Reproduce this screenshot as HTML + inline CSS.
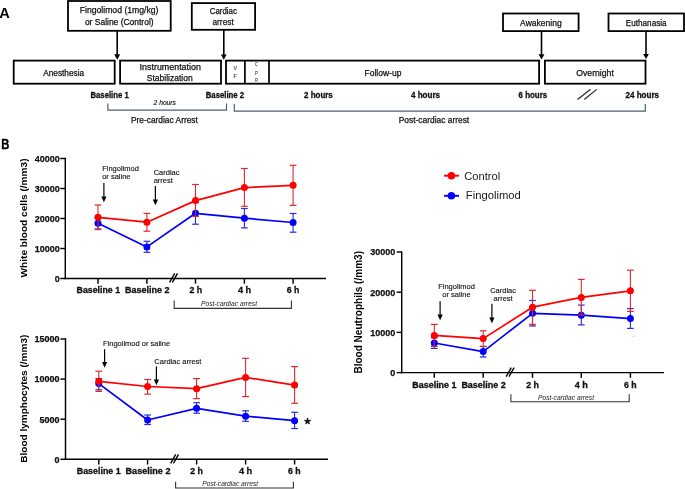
<!DOCTYPE html>
<html><head><meta charset="utf-8"><title>Figure</title>
<style>
html,body{margin:0;padding:0;background:#fff;}
body{width:685px;height:489px;overflow:hidden;}
svg{display:block;font-family:"Liberation Sans",sans-serif;will-change:transform;}
</style></head><body>
<svg width="685" height="489" viewBox="0 0 685 489">
<rect width="685" height="489" fill="#fff"/>
<text x="-0.8" y="18.2" font-size="14.6" font-weight="bold" font-style="normal" text-anchor="start" fill="#000" >A</text>
<rect x="68.0" y="1.0" width="102.70" height="29.80" fill="none" stroke="#000" stroke-width="1.8"/>
<text x="119.1" y="12.95" font-size="8.6" font-weight="normal" font-style="normal" text-anchor="middle" fill="#111111" stroke="#111111" stroke-width="0.25" textLength="78.8" lengthAdjust="spacingAndGlyphs" >Fingolimod (1mg/kg)</text>
<text x="119.25" y="24.5" font-size="8.6" font-weight="normal" font-style="normal" text-anchor="middle" fill="#111111" stroke="#111111" stroke-width="0.25" textLength="68.7" lengthAdjust="spacingAndGlyphs" >or Saline (Control)</text>
<rect x="191.8" y="3.1" width="63.30" height="26.70" fill="none" stroke="#000" stroke-width="1.8"/>
<text x="223.35" y="13.6" font-size="8.6" font-weight="normal" font-style="normal" text-anchor="middle" fill="#111111" stroke="#111111" stroke-width="0.25" textLength="27.3" lengthAdjust="spacingAndGlyphs" >Cardiac</text>
<text x="223.1" y="25.0" font-size="8.6" font-weight="normal" font-style="normal" text-anchor="middle" fill="#111111" stroke="#111111" stroke-width="0.25" textLength="21.2" lengthAdjust="spacingAndGlyphs" >arrest</text>
<rect x="503.0" y="13.5" width="75.60" height="17.60" fill="none" stroke="#000" stroke-width="1.8"/>
<text x="540.9" y="25.5" font-size="8.6" font-weight="normal" font-style="normal" text-anchor="middle" fill="#111111" stroke="#111111" stroke-width="0.25" textLength="41.6" lengthAdjust="spacingAndGlyphs" >Awakening</text>
<rect x="608.5" y="13.5" width="75.50" height="17.60" fill="none" stroke="#000" stroke-width="1.8"/>
<text x="646.2" y="25.5" font-size="8.6" font-weight="normal" font-style="normal" text-anchor="middle" fill="#111111" stroke="#111111" stroke-width="0.25" textLength="40.8" lengthAdjust="spacingAndGlyphs" >Euthanasia</text>
<line x1="117.2" y1="30.8" x2="117.2" y2="54.8" stroke="#000" stroke-width="1.6" />
<path d="M114.2,54.300000000000004 L120.2,54.300000000000004 L117.2,59.7 Z" fill="#000"/>
<line x1="223.8" y1="29.8" x2="223.8" y2="54.9" stroke="#000" stroke-width="1.6" />
<path d="M220.9,54.400000000000006 L226.70000000000002,54.400000000000006 L223.8,59.7 Z" fill="#000"/>
<line x1="541.5" y1="31.1" x2="541.5" y2="54.7" stroke="#000" stroke-width="1.6" />
<path d="M538.6,54.2 L544.4,54.2 L541.5,59.6 Z" fill="#000"/>
<line x1="646" y1="31.1" x2="646" y2="54.5" stroke="#000" stroke-width="1.6" />
<path d="M643.1,54.0 L648.9,54.0 L646.0,59.0 Z" fill="#000"/>
<rect x="13.7" y="60.6" width="101.00" height="23.10" fill="none" stroke="#000" stroke-width="1.8"/>
<text x="63.7" y="75.8" font-size="8.6" font-weight="normal" font-style="normal" text-anchor="middle" fill="#111111" stroke="#111111" stroke-width="0.25" textLength="41.0" lengthAdjust="spacingAndGlyphs" >Anesthesia</text>
<rect x="120.1" y="60.6" width="100.90" height="23.10" fill="none" stroke="#000" stroke-width="1.8"/>
<text x="170.25" y="69.7" font-size="8.6" font-weight="normal" font-style="normal" text-anchor="middle" fill="#111111" stroke="#111111" stroke-width="0.25" textLength="61.3" lengthAdjust="spacingAndGlyphs" >Instrumentation</text>
<text x="169.75" y="80.6" font-size="8.6" font-weight="normal" font-style="normal" text-anchor="middle" fill="#111111" stroke="#111111" stroke-width="0.25" textLength="45.9" lengthAdjust="spacingAndGlyphs" >Stabilization</text>
<rect x="226.0" y="60.6" width="313.10" height="23.10" fill="none" stroke="#000" stroke-width="1.8"/>
<line x1="244.9" y1="60.6" x2="244.9" y2="83.7" stroke="#000" stroke-width="1.7" />
<line x1="269" y1="60.6" x2="269" y2="83.7" stroke="#000" stroke-width="1.7" />
<text x="235.2" y="70.1" font-size="5.3" font-weight="normal" font-style="normal" text-anchor="middle" fill="#444" stroke="#444" stroke-width="0.15" >V</text>
<text x="235.2" y="78.3" font-size="5.3" font-weight="normal" font-style="normal" text-anchor="middle" fill="#444" stroke="#444" stroke-width="0.15" >F</text>
<text x="256.4" y="66.4" font-size="5.7" font-weight="normal" font-style="normal" text-anchor="middle" fill="#444" stroke="#444" stroke-width="0.15" textLength="2.7" lengthAdjust="spacingAndGlyphs" >C</text>
<text x="256.4" y="74.5" font-size="5.7" font-weight="normal" font-style="normal" text-anchor="middle" fill="#444" stroke="#444" stroke-width="0.15" textLength="2.7" lengthAdjust="spacingAndGlyphs" >P</text>
<text x="256.4" y="82.0" font-size="5.7" font-weight="normal" font-style="normal" text-anchor="middle" fill="#444" stroke="#444" stroke-width="0.15" textLength="2.8" lengthAdjust="spacingAndGlyphs" >R</text>
<text x="382.95" y="75.5" font-size="8.6" font-weight="normal" font-style="normal" text-anchor="middle" fill="#111111" stroke="#111111" stroke-width="0.25" textLength="36.9" lengthAdjust="spacingAndGlyphs" >Follow-up</text>
<rect x="544.9" y="60.6" width="100.60" height="23.10" fill="none" stroke="#000" stroke-width="1.8"/>
<text x="595.05" y="75.5" font-size="8.6" font-weight="normal" font-style="normal" text-anchor="middle" fill="#111111" stroke="#111111" stroke-width="0.25" textLength="37.5" lengthAdjust="spacingAndGlyphs" >Overnight</text>
<text x="109.6" y="97.5" font-size="8.3" font-weight="bold" font-style="normal" text-anchor="middle" fill="#111" stroke="#111" stroke-width="0.3" textLength="38.2" lengthAdjust="spacingAndGlyphs" >Baseline 1</text>
<text x="224.95" y="97.5" font-size="8.3" font-weight="bold" font-style="normal" text-anchor="middle" fill="#111" stroke="#111" stroke-width="0.3" textLength="38.5" lengthAdjust="spacingAndGlyphs" >Baseline 2</text>
<text x="318.4" y="97.5" font-size="8.3" font-weight="bold" font-style="normal" text-anchor="middle" fill="#111" stroke="#111" stroke-width="0.3" textLength="28.8" lengthAdjust="spacingAndGlyphs" >2 hours</text>
<text x="425.5" y="97.5" font-size="8.3" font-weight="bold" font-style="normal" text-anchor="middle" fill="#111" stroke="#111" stroke-width="0.3" textLength="29.0" lengthAdjust="spacingAndGlyphs" >4 hours</text>
<text x="532.9" y="97.5" font-size="8.3" font-weight="bold" font-style="normal" text-anchor="middle" fill="#111" stroke="#111" stroke-width="0.3" textLength="28.6" lengthAdjust="spacingAndGlyphs" >6 hours</text>
<text x="642.3" y="97.5" font-size="8.3" font-weight="bold" font-style="normal" text-anchor="middle" fill="#111" stroke="#111" stroke-width="0.3" textLength="33.6" lengthAdjust="spacingAndGlyphs" >24 hours</text>
<line x1="577.5" y1="99.5" x2="590.6" y2="89.3" stroke="#222" stroke-width="1.1" />
<line x1="584.3" y1="99.5" x2="596.7" y2="89.4" stroke="#222" stroke-width="1.1" />
<text x="164.75" y="105.0" font-size="6.9" font-weight="normal" font-style="italic" text-anchor="middle" fill="#111" stroke="#111" stroke-width="0.15" textLength="22.3" lengthAdjust="spacingAndGlyphs" >2 hours</text>
<path d="M107.9,103.4 V110.2 H226.5 V103.4" fill="none" stroke="#535e72" stroke-width="1.2"/>
<path d="M234.3,103.9 V111.2 H645.3 V103.9" fill="none" stroke="#535e72" stroke-width="1.2"/>
<text x="164.4" y="122.7" font-size="8.6" font-weight="normal" font-style="normal" text-anchor="middle" fill="#111111" stroke="#111111" stroke-width="0.25" textLength="67.0" lengthAdjust="spacingAndGlyphs" >Pre-cardiac Arrest</text>
<text x="433.95" y="122.8" font-size="8.6" font-weight="normal" font-style="normal" text-anchor="middle" fill="#111111" stroke="#111111" stroke-width="0.25" textLength="70.5" lengthAdjust="spacingAndGlyphs" >Post-cardiac arrest</text>
<text x="1.2" y="148.8" font-size="14.0" font-weight="bold" font-style="normal" text-anchor="start" fill="#000" stroke="#000" stroke-width="0.4" textLength="8.1" lengthAdjust="spacingAndGlyphs" >B</text>
<line x1="65.3" y1="157.78" x2="65.3" y2="279.23" stroke="#000" stroke-width="1.45" />
<line x1="64.58" y1="278.5" x2="326" y2="278.5" stroke="#000" stroke-width="1.45" />
<line x1="60.3" y1="158.5" x2="65.3" y2="158.5" stroke="#000" stroke-width="1.45" />
<text x="59.7" y="161.8" font-size="9.0" font-weight="bold" font-style="normal" text-anchor="end" fill="#111" stroke="#111" stroke-width="0.25" >40000</text>
<line x1="60.3" y1="188.5" x2="65.3" y2="188.5" stroke="#000" stroke-width="1.45" />
<text x="59.7" y="191.8" font-size="9.0" font-weight="bold" font-style="normal" text-anchor="end" fill="#111" stroke="#111" stroke-width="0.25" >30000</text>
<line x1="60.3" y1="218.5" x2="65.3" y2="218.5" stroke="#000" stroke-width="1.45" />
<text x="59.7" y="221.8" font-size="9.0" font-weight="bold" font-style="normal" text-anchor="end" fill="#111" stroke="#111" stroke-width="0.25" >20000</text>
<line x1="60.3" y1="248.5" x2="65.3" y2="248.5" stroke="#000" stroke-width="1.45" />
<text x="59.7" y="251.8" font-size="9.0" font-weight="bold" font-style="normal" text-anchor="end" fill="#111" stroke="#111" stroke-width="0.25" >10000</text>
<line x1="60.3" y1="278.5" x2="65.3" y2="278.5" stroke="#000" stroke-width="1.45" />
<text x="59.7" y="281.8" font-size="9.0" font-weight="bold" font-style="normal" text-anchor="end" fill="#111" stroke="#111" stroke-width="0.25" >0</text>
<line x1="98" y1="278.5" x2="98" y2="283.7" stroke="#000" stroke-width="1.45" />
<line x1="146.9" y1="278.5" x2="146.9" y2="283.7" stroke="#000" stroke-width="1.45" />
<line x1="195.5" y1="278.5" x2="195.5" y2="283.7" stroke="#000" stroke-width="1.45" />
<line x1="244.4" y1="278.5" x2="244.4" y2="283.7" stroke="#000" stroke-width="1.45" />
<line x1="293.1" y1="278.5" x2="293.1" y2="283.7" stroke="#000" stroke-width="1.45" />
<text x="98.35" y="292.6" font-size="8.6" font-weight="bold" font-style="normal" text-anchor="middle" fill="#111" stroke="#111" stroke-width="0.3" textLength="43.5" lengthAdjust="spacingAndGlyphs" >Baseline 1</text>
<text x="147.35" y="292.6" font-size="8.6" font-weight="bold" font-style="normal" text-anchor="middle" fill="#111" stroke="#111" stroke-width="0.3" textLength="44.5" lengthAdjust="spacingAndGlyphs" >Baseline 2</text>
<text x="195.75" y="292.6" font-size="8.6" font-weight="bold" font-style="normal" text-anchor="middle" fill="#111" stroke="#111" stroke-width="0.3" textLength="12.7" lengthAdjust="spacingAndGlyphs" >2 h</text>
<text x="244.6" y="292.6" font-size="8.6" font-weight="bold" font-style="normal" text-anchor="middle" fill="#111" stroke="#111" stroke-width="0.3" textLength="13.2" lengthAdjust="spacingAndGlyphs" >4 h</text>
<text x="293.05" y="292.6" font-size="8.6" font-weight="bold" font-style="normal" text-anchor="middle" fill="#111" stroke="#111" stroke-width="0.3" textLength="12.6" lengthAdjust="spacingAndGlyphs" >6 h</text>
<line x1="169.6" y1="282.4" x2="174.7" y2="273.4" stroke="#000" stroke-width="1.35" />
<line x1="172.4" y1="282.4" x2="177.5" y2="273.4" stroke="#000" stroke-width="1.35" />
<path d="M174.2,300.6 V308.4 H291.4 V300.6" fill="none" stroke="#333" stroke-width="1.1"/>
<text x="229.0" y="305.5" font-size="7.2" font-weight="normal" font-style="italic" text-anchor="middle" fill="#222" textLength="56.0" lengthAdjust="spacingAndGlyphs" >Post-cardiac arrest</text>
<text transform="translate(26.7,277.5) rotate(-90)" x="0" y="0" font-size="9.2" font-weight="bold" fill="#000" textLength="119.0" lengthAdjust="spacingAndGlyphs">White blood cells (/mm3)</text>
<line x1="98" y1="217.6" x2="98" y2="229" stroke="#2a2ade" stroke-width="1.1" />
<line x1="94.65" y1="217.6" x2="101.35" y2="217.6" stroke="#2a2ade" stroke-width="1.2" />
<line x1="94.65" y1="229" x2="101.35" y2="229" stroke="#2a2ade" stroke-width="1.2" />
<line x1="146.9" y1="241.3" x2="146.9" y2="252.3" stroke="#2a2ade" stroke-width="1.1" />
<line x1="143.55" y1="241.3" x2="150.25" y2="241.3" stroke="#2a2ade" stroke-width="1.2" />
<line x1="143.55" y1="252.3" x2="150.25" y2="252.3" stroke="#2a2ade" stroke-width="1.2" />
<line x1="195.5" y1="202.4" x2="195.5" y2="224.2" stroke="#2a2ade" stroke-width="1.1" />
<line x1="192.15" y1="202.4" x2="198.85" y2="202.4" stroke="#2a2ade" stroke-width="1.2" />
<line x1="192.15" y1="224.2" x2="198.85" y2="224.2" stroke="#2a2ade" stroke-width="1.2" />
<line x1="244.4" y1="208.5" x2="244.4" y2="227.9" stroke="#2a2ade" stroke-width="1.1" />
<line x1="241.05" y1="208.5" x2="247.75" y2="208.5" stroke="#2a2ade" stroke-width="1.2" />
<line x1="241.05" y1="227.9" x2="247.75" y2="227.9" stroke="#2a2ade" stroke-width="1.2" />
<line x1="293.1" y1="213.5" x2="293.1" y2="232.2" stroke="#2a2ade" stroke-width="1.1" />
<line x1="289.75" y1="213.5" x2="296.45" y2="213.5" stroke="#2a2ade" stroke-width="1.2" />
<line x1="289.75" y1="232.2" x2="296.45" y2="232.2" stroke="#2a2ade" stroke-width="1.2" />
<polyline points="98.0,223.3 146.9,246.9 195.5,213.3 244.4,218.2 293.1,222.5" fill="none" stroke="#0000ff" stroke-width="1.7" stroke-linejoin="round"/>
<circle cx="98.0" cy="223.3" r="3.5" fill="#0000ff"/>
<circle cx="146.9" cy="246.9" r="3.5" fill="#0000ff"/>
<circle cx="195.5" cy="213.3" r="3.5" fill="#0000ff"/>
<circle cx="244.4" cy="218.2" r="3.5" fill="#0000ff"/>
<circle cx="293.1" cy="222.5" r="3.5" fill="#0000ff"/>
<line x1="98" y1="205" x2="98" y2="229.6" stroke="#e0282c" stroke-width="1.1" />
<line x1="94.65" y1="205" x2="101.35" y2="205" stroke="#e0282c" stroke-width="1.2" />
<line x1="94.65" y1="229.6" x2="101.35" y2="229.6" stroke="#e0282c" stroke-width="1.2" />
<line x1="146.9" y1="213.4" x2="146.9" y2="231.2" stroke="#e0282c" stroke-width="1.1" />
<line x1="143.55" y1="213.4" x2="150.25" y2="213.4" stroke="#e0282c" stroke-width="1.2" />
<line x1="143.55" y1="231.2" x2="150.25" y2="231.2" stroke="#e0282c" stroke-width="1.2" />
<line x1="195.5" y1="184.5" x2="195.5" y2="216.4" stroke="#e0282c" stroke-width="1.1" />
<line x1="192.15" y1="184.5" x2="198.85" y2="184.5" stroke="#e0282c" stroke-width="1.2" />
<line x1="192.15" y1="216.4" x2="198.85" y2="216.4" stroke="#e0282c" stroke-width="1.2" />
<line x1="244.4" y1="168.5" x2="244.4" y2="206.3" stroke="#e0282c" stroke-width="1.1" />
<line x1="241.05" y1="168.5" x2="247.75" y2="168.5" stroke="#e0282c" stroke-width="1.2" />
<line x1="241.05" y1="206.3" x2="247.75" y2="206.3" stroke="#e0282c" stroke-width="1.2" />
<line x1="293.1" y1="165.3" x2="293.1" y2="205.4" stroke="#e0282c" stroke-width="1.1" />
<line x1="289.75" y1="165.3" x2="296.45" y2="165.3" stroke="#e0282c" stroke-width="1.2" />
<line x1="289.75" y1="205.4" x2="296.45" y2="205.4" stroke="#e0282c" stroke-width="1.2" />
<polyline points="98.0,217.3 146.9,222.2 195.5,200.6 244.4,187.6 293.1,185.3" fill="none" stroke="#ff0000" stroke-width="1.7" stroke-linejoin="round"/>
<circle cx="98.0" cy="217.3" r="3.5" fill="#ff0000"/>
<circle cx="146.9" cy="222.2" r="3.5" fill="#ff0000"/>
<circle cx="195.5" cy="200.6" r="3.5" fill="#ff0000"/>
<circle cx="244.4" cy="187.6" r="3.5" fill="#ff0000"/>
<circle cx="293.1" cy="185.3" r="3.5" fill="#ff0000"/>
<text x="102.2" y="170.5" font-size="7.5" font-weight="normal" font-style="normal" text-anchor="start" fill="#111" stroke="#111" stroke-width="0.12" >Fingolimod</text>
<text x="102.2" y="179.1" font-size="7.5" font-weight="normal" font-style="normal" text-anchor="start" fill="#111" stroke="#111" stroke-width="0.12" >or saline</text>
<line x1="103.9" y1="182.9" x2="103.9" y2="196.9" stroke="#000" stroke-width="1.2" />
<path d="M101.30000000000001,196.39999999999998 L106.5,196.39999999999998 L103.9,202.2 Z" fill="#000"/>
<text x="153.7" y="174.8" font-size="7.5" font-weight="normal" font-style="normal" text-anchor="start" fill="#111" stroke="#111" stroke-width="0.12" >Cardiac</text>
<text x="153.7" y="182.9" font-size="7.5" font-weight="normal" font-style="normal" text-anchor="start" fill="#111" stroke="#111" stroke-width="0.12" >arrest</text>
<line x1="155.4" y1="186" x2="155.4" y2="199.9" stroke="#000" stroke-width="1.2" />
<path d="M152.8,199.39999999999998 L158.0,199.39999999999998 L155.4,205.2 Z" fill="#000"/>
<line x1="444" y1="175.7" x2="459" y2="175.7" stroke="#ff0000" stroke-width="1.9" />
<circle cx="451.4" cy="175.7" r="3.8" fill="#ff0000"/>
<text x="464.2" y="179.9" font-size="11" font-weight="normal" font-style="normal" text-anchor="start" fill="#1a1a1a" textLength="36.0" lengthAdjust="spacingAndGlyphs" >Control</text>
<line x1="444" y1="195.8" x2="459" y2="195.8" stroke="#0000ff" stroke-width="1.9" />
<circle cx="451.4" cy="195.7" r="3.8" fill="#0000ff"/>
<text x="465.8" y="199.0" font-size="11" font-weight="normal" font-style="normal" text-anchor="start" fill="#1a1a1a" textLength="55.1" lengthAdjust="spacingAndGlyphs" >Fingolimod</text>
<line x1="401.7" y1="251.28" x2="401.7" y2="373.33" stroke="#000" stroke-width="1.45" />
<line x1="400.97" y1="372.6" x2="664" y2="372.6" stroke="#000" stroke-width="1.45" />
<line x1="396.7" y1="252" x2="401.7" y2="252" stroke="#000" stroke-width="1.45" />
<text x="395.3" y="255.3" font-size="9.0" font-weight="bold" font-style="normal" text-anchor="end" fill="#111" stroke="#111" stroke-width="0.25" >30000</text>
<line x1="396.7" y1="292.2" x2="401.7" y2="292.2" stroke="#000" stroke-width="1.45" />
<text x="395.3" y="295.5" font-size="9.0" font-weight="bold" font-style="normal" text-anchor="end" fill="#111" stroke="#111" stroke-width="0.25" >20000</text>
<line x1="396.7" y1="332.4" x2="401.7" y2="332.4" stroke="#000" stroke-width="1.45" />
<text x="395.3" y="335.7" font-size="9.0" font-weight="bold" font-style="normal" text-anchor="end" fill="#111" stroke="#111" stroke-width="0.25" >10000</text>
<line x1="396.7" y1="372.6" x2="401.7" y2="372.6" stroke="#000" stroke-width="1.45" />
<text x="395.3" y="375.90000000000003" font-size="9.0" font-weight="bold" font-style="normal" text-anchor="end" fill="#111" stroke="#111" stroke-width="0.25" >0</text>
<line x1="434.3" y1="372.6" x2="434.3" y2="377.8" stroke="#000" stroke-width="1.45" />
<line x1="483.2" y1="372.6" x2="483.2" y2="377.8" stroke="#000" stroke-width="1.45" />
<line x1="532.5" y1="372.6" x2="532.5" y2="377.8" stroke="#000" stroke-width="1.45" />
<line x1="581.3" y1="372.6" x2="581.3" y2="377.8" stroke="#000" stroke-width="1.45" />
<line x1="630.4" y1="372.6" x2="630.4" y2="377.8" stroke="#000" stroke-width="1.45" />
<text x="434.4" y="387.8" font-size="8.6" font-weight="bold" font-style="normal" text-anchor="middle" fill="#111" stroke="#111" stroke-width="0.3" textLength="44.2" lengthAdjust="spacingAndGlyphs" >Baseline 1</text>
<text x="483.6" y="387.8" font-size="8.6" font-weight="bold" font-style="normal" text-anchor="middle" fill="#111" stroke="#111" stroke-width="0.3" textLength="44.4" lengthAdjust="spacingAndGlyphs" >Baseline 2</text>
<text x="532.5" y="387.8" font-size="8.6" font-weight="bold" font-style="normal" text-anchor="middle" fill="#111" stroke="#111" stroke-width="0.3" textLength="12.7" lengthAdjust="spacingAndGlyphs" >2 h</text>
<text x="581.3" y="387.8" font-size="8.6" font-weight="bold" font-style="normal" text-anchor="middle" fill="#111" stroke="#111" stroke-width="0.3" textLength="13.2" lengthAdjust="spacingAndGlyphs" >4 h</text>
<text x="630.4" y="387.8" font-size="8.6" font-weight="bold" font-style="normal" text-anchor="middle" fill="#111" stroke="#111" stroke-width="0.3" textLength="12.6" lengthAdjust="spacingAndGlyphs" >6 h</text>
<line x1="506.2" y1="376.6" x2="511.3" y2="367.6" stroke="#000" stroke-width="1.35" />
<line x1="509" y1="376.6" x2="514.1" y2="367.6" stroke="#000" stroke-width="1.35" />
<path d="M510.9,394.2 V401.8 H629.2 V394.2" fill="none" stroke="#333" stroke-width="1.1"/>
<text x="566.0" y="399.5" font-size="7.2" font-weight="normal" font-style="italic" text-anchor="middle" fill="#222" textLength="56.0" lengthAdjust="spacingAndGlyphs" >Post-cardiac arrest</text>
<text transform="translate(361.8,373.6) rotate(-90)" x="0" y="0" font-size="10.1" font-weight="bold" fill="#000" textLength="122.6" lengthAdjust="spacingAndGlyphs">Blood Neutrophils (/mm3)</text>
<line x1="434.3" y1="337.6" x2="434.3" y2="348.4" stroke="#2a2ade" stroke-width="1.1" />
<line x1="430.95" y1="337.6" x2="437.65" y2="337.6" stroke="#2a2ade" stroke-width="1.2" />
<line x1="430.95" y1="348.4" x2="437.65" y2="348.4" stroke="#2a2ade" stroke-width="1.2" />
<line x1="483.2" y1="346.5" x2="483.2" y2="357" stroke="#2a2ade" stroke-width="1.1" />
<line x1="479.85" y1="346.5" x2="486.55" y2="346.5" stroke="#2a2ade" stroke-width="1.2" />
<line x1="479.85" y1="357" x2="486.55" y2="357" stroke="#2a2ade" stroke-width="1.2" />
<line x1="532.5" y1="300.5" x2="532.5" y2="326" stroke="#2a2ade" stroke-width="1.1" />
<line x1="529.15" y1="300.5" x2="535.85" y2="300.5" stroke="#2a2ade" stroke-width="1.2" />
<line x1="529.15" y1="326" x2="535.85" y2="326" stroke="#2a2ade" stroke-width="1.2" />
<line x1="581.3" y1="305.1" x2="581.3" y2="324.9" stroke="#2a2ade" stroke-width="1.1" />
<line x1="577.95" y1="305.1" x2="584.65" y2="305.1" stroke="#2a2ade" stroke-width="1.2" />
<line x1="577.95" y1="324.9" x2="584.65" y2="324.9" stroke="#2a2ade" stroke-width="1.2" />
<line x1="630.4" y1="308.6" x2="630.4" y2="328.4" stroke="#2a2ade" stroke-width="1.1" />
<line x1="627.05" y1="308.6" x2="633.75" y2="308.6" stroke="#2a2ade" stroke-width="1.2" />
<line x1="627.05" y1="328.4" x2="633.75" y2="328.4" stroke="#2a2ade" stroke-width="1.2" />
<polyline points="434.3,343.0 483.2,351.6 532.5,313.3 581.3,315.2 630.4,318.6" fill="none" stroke="#0000ff" stroke-width="1.7" stroke-linejoin="round"/>
<circle cx="434.3" cy="343.0" r="3.5" fill="#0000ff"/>
<circle cx="483.2" cy="351.6" r="3.5" fill="#0000ff"/>
<circle cx="532.5" cy="313.3" r="3.5" fill="#0000ff"/>
<circle cx="581.3" cy="315.2" r="3.5" fill="#0000ff"/>
<circle cx="630.4" cy="318.6" r="3.5" fill="#0000ff"/>
<line x1="434.3" y1="324.4" x2="434.3" y2="346.4" stroke="#e0282c" stroke-width="1.1" />
<line x1="430.95" y1="324.4" x2="437.65" y2="324.4" stroke="#e0282c" stroke-width="1.2" />
<line x1="430.95" y1="346.4" x2="437.65" y2="346.4" stroke="#e0282c" stroke-width="1.2" />
<line x1="483.2" y1="330.8" x2="483.2" y2="346.4" stroke="#e0282c" stroke-width="1.1" />
<line x1="479.85" y1="330.8" x2="486.55" y2="330.8" stroke="#e0282c" stroke-width="1.2" />
<line x1="479.85" y1="346.4" x2="486.55" y2="346.4" stroke="#e0282c" stroke-width="1.2" />
<line x1="532.5" y1="290.3" x2="532.5" y2="324.4" stroke="#e0282c" stroke-width="1.1" />
<line x1="529.15" y1="290.3" x2="535.85" y2="290.3" stroke="#e0282c" stroke-width="1.2" />
<line x1="529.15" y1="324.4" x2="535.85" y2="324.4" stroke="#e0282c" stroke-width="1.2" />
<line x1="581.3" y1="279.4" x2="581.3" y2="315" stroke="#e0282c" stroke-width="1.1" />
<line x1="577.95" y1="279.4" x2="584.65" y2="279.4" stroke="#e0282c" stroke-width="1.2" />
<line x1="577.95" y1="315" x2="584.65" y2="315" stroke="#e0282c" stroke-width="1.2" />
<line x1="630.4" y1="270.2" x2="630.4" y2="311.4" stroke="#e0282c" stroke-width="1.1" />
<line x1="627.05" y1="270.2" x2="633.75" y2="270.2" stroke="#e0282c" stroke-width="1.2" />
<line x1="627.05" y1="311.4" x2="633.75" y2="311.4" stroke="#e0282c" stroke-width="1.2" />
<polyline points="434.3,335.4 483.2,338.6 532.5,307.2 581.3,297.4 630.4,290.8" fill="none" stroke="#ff0000" stroke-width="1.7" stroke-linejoin="round"/>
<circle cx="434.3" cy="335.4" r="3.5" fill="#ff0000"/>
<circle cx="483.2" cy="338.6" r="3.5" fill="#ff0000"/>
<circle cx="532.5" cy="307.2" r="3.5" fill="#ff0000"/>
<circle cx="581.3" cy="297.4" r="3.5" fill="#ff0000"/>
<circle cx="630.4" cy="290.8" r="3.5" fill="#ff0000"/>
<text x="456.5" y="288.8" font-size="7.5" font-weight="normal" font-style="normal" text-anchor="middle" fill="#111" stroke="#111" stroke-width="0.12" >Fingolimod</text>
<text x="456.5" y="297.0" font-size="7.5" font-weight="normal" font-style="normal" text-anchor="middle" fill="#111" stroke="#111" stroke-width="0.12" >or saline</text>
<line x1="440.1" y1="301.3" x2="440.1" y2="314.9" stroke="#000" stroke-width="1.2" />
<path d="M437.5,314.4 L442.70000000000005,314.4 L440.1,320.2 Z" fill="#000"/>
<text x="503.1" y="292.9" font-size="7.5" font-weight="normal" font-style="normal" text-anchor="middle" fill="#111" stroke="#111" stroke-width="0.12" >Cardiac</text>
<text x="503.1" y="300.7" font-size="7.5" font-weight="normal" font-style="normal" text-anchor="middle" fill="#111" stroke="#111" stroke-width="0.12" >arrest</text>
<line x1="491.9" y1="303.8" x2="491.9" y2="317.9" stroke="#000" stroke-width="1.2" />
<path d="M489.29999999999995,317.4 L494.5,317.4 L491.9,323.2 Z" fill="#000"/>
<line x1="65.5" y1="338.27" x2="65.5" y2="460.03" stroke="#000" stroke-width="1.45" />
<line x1="64.78" y1="459.3" x2="328" y2="459.3" stroke="#000" stroke-width="1.45" />
<line x1="60.5" y1="339" x2="65.5" y2="339" stroke="#000" stroke-width="1.45" />
<text x="59.5" y="342.3" font-size="9.0" font-weight="bold" font-style="normal" text-anchor="end" fill="#111" stroke="#111" stroke-width="0.25" >15000</text>
<line x1="60.5" y1="379.1" x2="65.5" y2="379.1" stroke="#000" stroke-width="1.45" />
<text x="59.5" y="382.40000000000003" font-size="9.0" font-weight="bold" font-style="normal" text-anchor="end" fill="#111" stroke="#111" stroke-width="0.25" >10000</text>
<line x1="60.5" y1="419.2" x2="65.5" y2="419.2" stroke="#000" stroke-width="1.45" />
<text x="59.5" y="422.5" font-size="9.0" font-weight="bold" font-style="normal" text-anchor="end" fill="#111" stroke="#111" stroke-width="0.25" >5000</text>
<line x1="60.5" y1="459.3" x2="65.5" y2="459.3" stroke="#000" stroke-width="1.45" />
<text x="59.5" y="462.6" font-size="9.0" font-weight="bold" font-style="normal" text-anchor="end" fill="#111" stroke="#111" stroke-width="0.25" >0</text>
<line x1="98.8" y1="459.3" x2="98.8" y2="464.5" stroke="#000" stroke-width="1.45" />
<line x1="147.6" y1="459.3" x2="147.6" y2="464.5" stroke="#000" stroke-width="1.45" />
<line x1="196.6" y1="459.3" x2="196.6" y2="464.5" stroke="#000" stroke-width="1.45" />
<line x1="245.6" y1="459.3" x2="245.6" y2="464.5" stroke="#000" stroke-width="1.45" />
<line x1="294.6" y1="459.3" x2="294.6" y2="464.5" stroke="#000" stroke-width="1.45" />
<text x="98.7" y="474.4" font-size="8.6" font-weight="bold" font-style="normal" text-anchor="middle" fill="#111" stroke="#111" stroke-width="0.3" textLength="43.8" lengthAdjust="spacingAndGlyphs" >Baseline 1</text>
<text x="148.0" y="474.4" font-size="8.6" font-weight="bold" font-style="normal" text-anchor="middle" fill="#111" stroke="#111" stroke-width="0.3" textLength="44.9" lengthAdjust="spacingAndGlyphs" >Baseline 2</text>
<text x="196.5" y="474.4" font-size="8.6" font-weight="bold" font-style="normal" text-anchor="middle" fill="#111" stroke="#111" stroke-width="0.3" textLength="12.7" lengthAdjust="spacingAndGlyphs" >2 h</text>
<text x="245.6" y="474.4" font-size="8.6" font-weight="bold" font-style="normal" text-anchor="middle" fill="#111" stroke="#111" stroke-width="0.3" textLength="13.2" lengthAdjust="spacingAndGlyphs" >4 h</text>
<text x="294.2" y="474.4" font-size="8.6" font-weight="bold" font-style="normal" text-anchor="middle" fill="#111" stroke="#111" stroke-width="0.3" textLength="12.6" lengthAdjust="spacingAndGlyphs" >6 h</text>
<line x1="170.6" y1="463.3" x2="175.7" y2="454.3" stroke="#000" stroke-width="1.35" />
<line x1="173.4" y1="463.3" x2="178.5" y2="454.3" stroke="#000" stroke-width="1.35" />
<path d="M175.6,481.7 V488.0 H293.4 V481.7" fill="none" stroke="#333" stroke-width="1.1"/>
<text x="230.2" y="486.0" font-size="7.2" font-weight="normal" font-style="italic" text-anchor="middle" fill="#222" textLength="55.8" lengthAdjust="spacingAndGlyphs" >Post-cardiac arrest</text>
<text transform="translate(27.0,462.7) rotate(-90)" x="0" y="0" font-size="9.8" font-weight="bold" fill="#000" textLength="128.0" lengthAdjust="spacingAndGlyphs">Blood lymphocytes (/mm3)</text>
<line x1="98.8" y1="378.6" x2="98.8" y2="389.8" stroke="#2a2ade" stroke-width="1.1" />
<line x1="95.45" y1="378.6" x2="102.15" y2="378.6" stroke="#2a2ade" stroke-width="1.2" />
<line x1="95.45" y1="389.8" x2="102.15" y2="389.8" stroke="#2a2ade" stroke-width="1.2" />
<line x1="147.6" y1="415" x2="147.6" y2="424.5" stroke="#2a2ade" stroke-width="1.1" />
<line x1="144.25" y1="415" x2="150.95" y2="415" stroke="#2a2ade" stroke-width="1.2" />
<line x1="144.25" y1="424.5" x2="150.95" y2="424.5" stroke="#2a2ade" stroke-width="1.2" />
<line x1="196.6" y1="402.7" x2="196.6" y2="413.2" stroke="#2a2ade" stroke-width="1.1" />
<line x1="193.25" y1="402.7" x2="199.95" y2="402.7" stroke="#2a2ade" stroke-width="1.2" />
<line x1="193.25" y1="413.2" x2="199.95" y2="413.2" stroke="#2a2ade" stroke-width="1.2" />
<line x1="245.6" y1="410.8" x2="245.6" y2="421.3" stroke="#2a2ade" stroke-width="1.1" />
<line x1="242.25" y1="410.8" x2="248.95" y2="410.8" stroke="#2a2ade" stroke-width="1.2" />
<line x1="242.25" y1="421.3" x2="248.95" y2="421.3" stroke="#2a2ade" stroke-width="1.2" />
<line x1="294.6" y1="412.3" x2="294.6" y2="428.5" stroke="#2a2ade" stroke-width="1.1" />
<line x1="291.25" y1="412.3" x2="297.95" y2="412.3" stroke="#2a2ade" stroke-width="1.2" />
<line x1="291.25" y1="428.5" x2="297.95" y2="428.5" stroke="#2a2ade" stroke-width="1.2" />
<polyline points="98.8,383.6 147.6,420.0 196.6,408.3 245.6,416.2 294.6,420.7" fill="none" stroke="#0000ff" stroke-width="1.7" stroke-linejoin="round"/>
<circle cx="98.8" cy="383.6" r="3.5" fill="#0000ff"/>
<circle cx="147.6" cy="420.0" r="3.5" fill="#0000ff"/>
<circle cx="196.6" cy="408.3" r="3.5" fill="#0000ff"/>
<circle cx="245.6" cy="416.2" r="3.5" fill="#0000ff"/>
<circle cx="294.6" cy="420.7" r="3.5" fill="#0000ff"/>
<line x1="98.8" y1="371.2" x2="98.8" y2="391.4" stroke="#e0282c" stroke-width="1.1" />
<line x1="95.45" y1="371.2" x2="102.15" y2="371.2" stroke="#e0282c" stroke-width="1.2" />
<line x1="95.45" y1="391.4" x2="102.15" y2="391.4" stroke="#e0282c" stroke-width="1.2" />
<line x1="147.6" y1="379.5" x2="147.6" y2="394.1" stroke="#e0282c" stroke-width="1.1" />
<line x1="144.25" y1="379.5" x2="150.95" y2="379.5" stroke="#e0282c" stroke-width="1.2" />
<line x1="144.25" y1="394.1" x2="150.95" y2="394.1" stroke="#e0282c" stroke-width="1.2" />
<line x1="196.6" y1="378.6" x2="196.6" y2="398.6" stroke="#e0282c" stroke-width="1.1" />
<line x1="193.25" y1="378.6" x2="199.95" y2="378.6" stroke="#e0282c" stroke-width="1.2" />
<line x1="193.25" y1="398.6" x2="199.95" y2="398.6" stroke="#e0282c" stroke-width="1.2" />
<line x1="245.6" y1="358.3" x2="245.6" y2="396.6" stroke="#e0282c" stroke-width="1.1" />
<line x1="242.25" y1="358.3" x2="248.95" y2="358.3" stroke="#e0282c" stroke-width="1.2" />
<line x1="242.25" y1="396.6" x2="248.95" y2="396.6" stroke="#e0282c" stroke-width="1.2" />
<line x1="294.6" y1="366.6" x2="294.6" y2="403.3" stroke="#e0282c" stroke-width="1.1" />
<line x1="291.25" y1="366.6" x2="297.95" y2="366.6" stroke="#e0282c" stroke-width="1.2" />
<line x1="291.25" y1="403.3" x2="297.95" y2="403.3" stroke="#e0282c" stroke-width="1.2" />
<polyline points="98.8,381.3 147.6,386.5 196.6,388.7 245.6,377.4 294.6,385.1" fill="none" stroke="#ff0000" stroke-width="1.7" stroke-linejoin="round"/>
<circle cx="98.8" cy="381.3" r="3.5" fill="#ff0000"/>
<circle cx="147.6" cy="386.5" r="3.5" fill="#ff0000"/>
<circle cx="196.6" cy="388.7" r="3.5" fill="#ff0000"/>
<circle cx="245.6" cy="377.4" r="3.5" fill="#ff0000"/>
<circle cx="294.6" cy="385.1" r="3.5" fill="#ff0000"/>
<text x="103.0" y="346.3" font-size="7.5" font-weight="normal" font-style="normal" text-anchor="start" fill="#111" stroke="#111" stroke-width="0.12" >Fingolimod or saline</text>
<line x1="104.6" y1="349.3" x2="104.6" y2="362.5" stroke="#000" stroke-width="1.2" />
<path d="M102.0,362.0 L107.19999999999999,362.0 L104.6,367.8 Z" fill="#000"/>
<text x="154.3" y="364.3" font-size="7.5" font-weight="normal" font-style="normal" text-anchor="start" fill="#111" stroke="#111" stroke-width="0.12" >Cardiac arrest</text>
<line x1="156.4" y1="366.6" x2="156.4" y2="380" stroke="#000" stroke-width="1.2" />
<path d="M153.8,379.5 L159.0,379.5 L156.4,385.3 Z" fill="#000"/>
<path d="M307.55,421.3 L307.55,418.60 M307.55,421.3 L310.12,420.47 M307.55,421.3 L304.98,420.47 M307.55,421.3 L309.14,423.48 M307.55,421.3 L305.96,423.48 " stroke="#111" stroke-width="1.5" stroke-linecap="round" fill="none"/>
<circle cx="633.4" cy="336.4" r="0.6" fill="#bbb"/>
</svg>
</body></html>
